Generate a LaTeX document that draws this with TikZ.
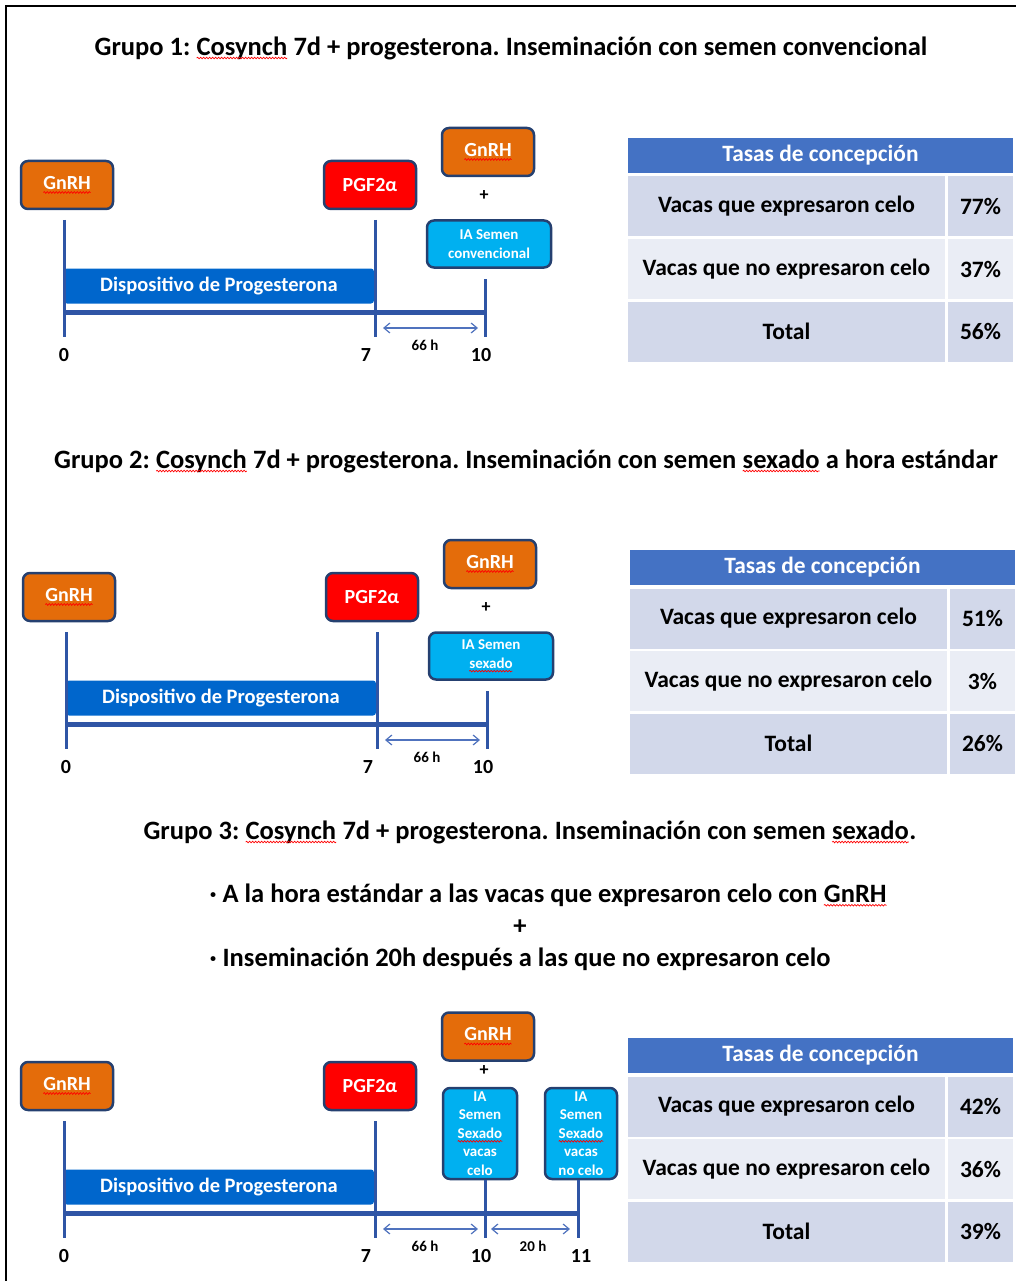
\documentclass[tikz,border=0pt]{standalone}
\usepackage{fontspec}
\setmainfont{Carlito}
\usetikzlibrary{arrows.meta,positioning,decorations.pathmorphing}

\definecolor{naranja}{RGB}{228,108,10}
\definecolor{rojo}{RGB}{255,0,0}
\definecolor{celeste}{RGB}{0,176,240}
\definecolor{borde}{RGB}{37,64,112}
\definecolor{barra}{RGB}{0,102,204}
\definecolor{azuleje}{RGB}{47,85,165}
\definecolor{flecha}{RGB}{80,115,190}
\definecolor{cabecera}{RGB}{68,114,196}
\definecolor{filaA}{RGB}{210,216,234}
\definecolor{filaB}{RGB}{234,237,245}

% subrayado ondulado rojo
\newcommand\wv[1]{\tikz[baseline=(w.base)]{\node[draw=none, fill=none, sharp corners, minimum width=0pt, minimum height=0pt, inner sep=0pt, outer sep=0pt, anchor=base] (w) {#1};
	\draw[red, line width=0.7pt, sharp corners, decorate, decoration={snake, amplitude=0.8pt, segment length=3pt}] ([yshift=-3pt]w.base west) -- ([yshift=-3pt]w.base east);}}

\tikzset{
	caja/.style={draw=borde, line width=2.5pt, rounded corners=7pt, text=white, inner sep=0pt, font=\bfseries\fontsize{20}{22}\selectfont},
	hormona/.style={caja, minimum width=92pt, minimum height=48pt},
	ia/.style={caja, fill=celeste, align=center, font=\bfseries\fontsize{15}{18.5}\selectfont},
	dispositivo/.style={fill=barra, rounded corners=3pt, text=white, minimum width=310pt, minimum height=35pt, inner sep=0pt, font=\bfseries\fontsize{20.5}{23}\selectfont},
	eje/.style={draw=azuleje, line width=5pt},
	marca/.style={draw=azuleje, line width=3pt},
	lapso/.style={draw=flecha, line width=1.2pt, {Straight Barb[length=6pt,width=10pt]}-{Straight Barb[length=6pt,width=10pt]}},
	dia/.style={font=\bfseries\fontsize{20}{22}\selectfont},
	horas/.style={font=\bfseries\fontsize{15}{17}\selectfont},
	mas/.style={font=\bfseries\fontsize{18}{20}\selectfont},
	titulo/.style={font=\bfseries\fontsize{26.5}{30}\selectfont},
	cabeza/.style={fill=cabecera, text=white, minimum width=385pt, minimum height=35pt, inner sep=0pt, font=\bfseries\fontsize{23.4}{26}\selectfont},
	celda/.style={minimum height=60pt, inner sep=0pt, font=\bfseries\fontsize{23.5}{26}\selectfont},
	izq/.style={celda, minimum width=317pt},
	der/.style={celda, minimum width=65pt},
}

\begin{document}
\frenchspacing
\begin{tikzpicture}[x=1pt, y=-1pt]
		\useasboundingbox (0,0) rectangle (1016,1281);
		\draw[line width=1.5pt] (6,1281) -- (6,6) -- (1016,6);

		% Grupo 1
		\node[titulo] (t1) at (511,48) {Grupo 1: \wv{Cosynch} 7d + progesterona. Inseminación con semen convencional};
		\begin{scope}
		\node[hormona, fill=naranja] (g1a) at (67,185) {\wv{GnRH}};
		\node[hormona, fill=rojo] (g1b) at (370,185) {PGF2α};
		\node[hormona, fill=naranja] (g1c) at (488,152) {\wv{GnRH}};
		\node[mas] (g1p) at (484,196) {+};
		\node[ia, minimum width=124pt, minimum height=47pt] (g1d) at (489,244) {IA Semen\\convencional};
		\node[dispositivo] (g1e) at (219,286) {Dispositivo de Progesterona};
		\draw[eje] (64,312) -- (485,312);
		\draw[marca] (64,220) -- (64,337);
		\draw[marca] (375,220) -- (375,337);
		\draw[marca] (485,279) -- (485,337);
		\draw[lapso] (383,328) -- (478,328);
		\node[horas] (g1h) at (425,345) {66 h};
		\node[dia] (g1l0) at (64,355) {0};
		\node[dia] (g1l7) at (366,355) {7};
		\node[dia] (g1l10) at (481,355) {10};
		\node[cabeza] (g1th) at (820.5,155.5) {Tasas de concepción};
		\node[izq, fill=filaA] (g1r1) at (786.5,206.5) {Vacas que expresaron celo};
		\node[der, fill=filaA] (g1v1) at (980.5,206.5) {77\%};
		\node[izq, fill=filaB] (g1r2) at (786.5,269) {Vacas que no expresaron celo};
		\node[der, fill=filaB] (g1v2) at (980.5,269) {37\%};
		\node[izq, fill=filaA] (g1r3) at (786.5,331.5) {Total};
		\node[der, fill=filaA] (g1v3) at (980.5,331.5) {56\%};
		\end{scope}

		% Grupo 2
		\node[titulo] (t2) at (526,461) {Grupo 2: \wv{Cosynch} 7d + progesterona. Inseminación con semen \wv{sexado} a hora estándar};
		\begin{scope}[shift={(2,412)}]
		\node[hormona, fill=naranja] (g2a) at (67,185) {\wv{GnRH}};
		\node[hormona, fill=rojo] (g2b) at (370,185) {PGF2α};
		\node[hormona, fill=naranja] (g2c) at (488,152) {\wv{GnRH}};
		\node[mas] (g2p) at (484,196) {+};
		\node[ia, minimum width=124pt, minimum height=47pt] (g2d) at (489,244) {IA Semen\\\wv{sexado}};
		\node[dispositivo] (g2e) at (219,286) {Dispositivo de Progesterona};
		\draw[eje] (64,312) -- (485,312);
		\draw[marca] (64,220) -- (64,337);
		\draw[marca] (375,220) -- (375,337);
		\draw[marca] (485,279) -- (485,337);
		\draw[lapso] (383,328) -- (478,328);
		\node[horas] (g2h) at (425,345) {66 h};
		\node[dia] (g2l0) at (64,355) {0};
		\node[dia] (g2l7) at (366,355) {7};
		\node[dia] (g2l10) at (481,355) {10};
		\node[cabeza] (g2th) at (820.5,155.5) {Tasas de concepción};
		\node[izq, fill=filaA] (g2r1) at (786.5,206.5) {Vacas que expresaron celo};
		\node[der, fill=filaA] (g2v1) at (980.5,206.5) {51\%};
		\node[izq, fill=filaB] (g2r2) at (786.5,269) {Vacas que no expresaron celo};
		\node[der, fill=filaB] (g2v2) at (980.5,269) {3\%};
		\node[izq, fill=filaA] (g2r3) at (786.5,331.5) {Total};
		\node[der, fill=filaA] (g2v3) at (980.5,331.5) {26\%};
		\end{scope}

		% Grupo 3
		\node[titulo] (t3) at (530,832) {Grupo 3: \wv{Cosynch} 7d + progesterona. Inseminación con semen \wv{sexado}.};
		\node[titulo, anchor=west] (b1) at (206,895) {· A la hora estándar a las vacas que expresaron celo con \wv{GnRH}};
		\node[titulo] (b2) at (520,927) {+};
		\node[titulo, anchor=west] (b3) at (206,959) {· Inseminación 20h después a las que no expresaron celo};
		\begin{scope}[shift={(0,901)}]
		\node[hormona, fill=naranja] (g3a) at (67,185) {\wv{GnRH}};
		\node[hormona, fill=rojo] (g3b) at (370,185) {PGF2α};
		\node[hormona, fill=naranja] (g3c) at (488,135.5) {\wv{GnRH}};
		\node[mas] (g3p) at (484,170) {+};
		\node[ia, minimum width=74pt, minimum height=91pt] (g3d) at (480,232.5) {IA\\Semen\\\wv{Sexado}\\vacas\\celo};
		\node[ia, minimum width=72pt, minimum height=91pt] (g3f) at (581,232.5) {IA\\Semen\\\wv{Sexado}\\vacas\\no celo};
		\node[dispositivo] (g3e) at (219,286) {Dispositivo de Progesterona};
		\coordinate (g3t10) at (485,337);
		\coordinate (g3t11) at (578,337);
		\draw[eje] (64,312) -- (578,312);
		\draw[marca] (64,220) -- (64,337);
		\draw[marca] (375,220) -- (375,337);
		\draw[marca] (g3t10 |- g3d.south) -- (g3t10);
		\draw[marca] (g3t11 |- g3f.south) -- (g3t11);
		\draw[lapso] (383,328) -- (478,328);
		\draw[lapso] (491,328) -- (570,328);
		\node[horas] (g3h) at (425,345) {66 h};
		\node[horas] (g3k) at (533,345) {20 h};
		\node[dia] (g3l0) at (64,355) {0};
		\node[dia] (g3l7) at (366,355) {7};
		\node[dia] (g3l10) at (481,355) {10};
		\node[dia] (g3l11) at (581,355) {11};
		\end{scope}
		\begin{scope}[shift={(0,900)}]
		\node[cabeza] (g3th) at (820.5,155.5) {Tasas de concepción};
		\node[izq, fill=filaA] (g3r1) at (786.5,206.5) {Vacas que expresaron celo};
		\node[der, fill=filaA] (g3v1) at (980.5,206.5) {42\%};
		\node[izq, fill=filaB] (g3r2) at (786.5,269) {Vacas que no expresaron celo};
		\node[der, fill=filaB] (g3v2) at (980.5,269) {36\%};
		\node[izq, fill=filaA] (g3r3) at (786.5,331.5) {Total};
		\node[der, fill=filaA] (g3v3) at (980.5,331.5) {39\%};
		\end{scope}
	\end{tikzpicture}
\end{document}
